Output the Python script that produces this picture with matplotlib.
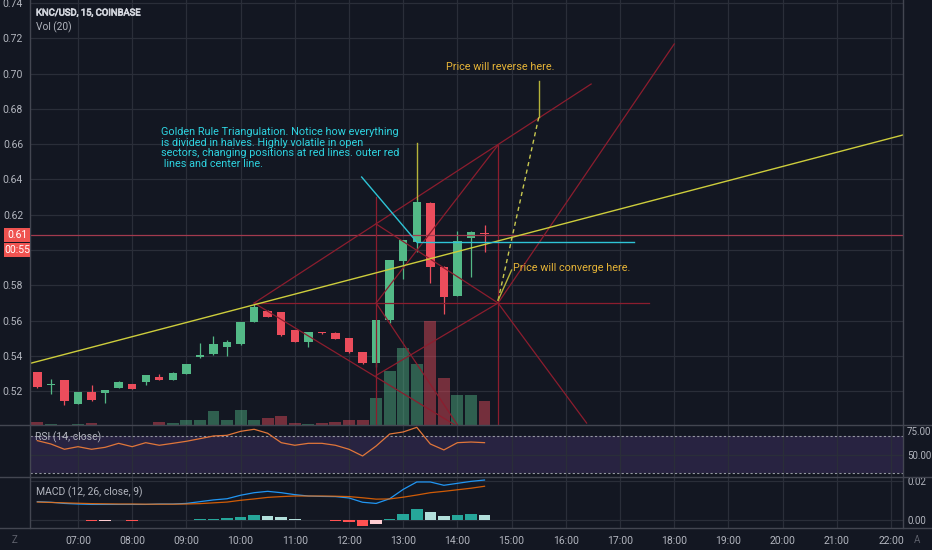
import matplotlib
matplotlib.use('Agg')
import matplotlib.pyplot as plt
from matplotlib import font_manager
from matplotlib.lines import Line2D
from matplotlib.patches import Rectangle
import matplotlib.patheffects as pe

fonts = font_manager.fontManager.ttflist
names = {f.name for f in fonts}
FONT = 'Liberation Sans Narrow' if 'Liberation Sans Narrow' in names else 'Roboto'
plt.rcParams['font.family'] = [FONT, 'DejaVu Sans']

# ---------------- data ----------------
title = "KNC/USD, 15, COINBASE"
vol_title = "Vol (20)"
rsi_title = "RSI (14, close)"
macd_title = "MACD (12, 26, close, 9)"
first_bar = "06:15"
bar_minutes = 15

opens = [0.5307, 0.5234, 0.5262, 0.5130, 0.5194, 0.5189, 0.5220, 0.5240, 0.5251, 0.5279,
         0.5264, 0.5298, 0.5393, 0.5409, 0.5453, 0.5466, 0.5593, 0.5655, 0.5648, 0.5547,
         0.5477, 0.5535, 0.5532, 0.5502, 0.5423, 0.5359, 0.5605, 0.5938, 0.6044, 0.6269,
         0.5906, 0.5740, 0.6067, 0.6097]
highs = [0.5310, 0.5271, 0.5264, 0.5196, 0.5234, 0.5209, 0.5256, 0.5242, 0.5294, 0.5298,
         0.5309, 0.5355, 0.5472, 0.5513, 0.5489, 0.5595, 0.5700, 0.5658, 0.5650, 0.5549,
         0.5536, 0.5537, 0.5534, 0.5504, 0.5425, 0.5604, 0.5944, 0.6059, 0.6290, 0.6271,
         0.5908, 0.6110, 0.6106, 0.6142]
lows = [0.5220, 0.5185, 0.5122, 0.5128, 0.5147, 0.5134, 0.5218, 0.5213, 0.5236, 0.5262,
        0.5262, 0.5296, 0.5391, 0.5407, 0.5402, 0.5464, 0.5591, 0.5621, 0.5515, 0.5477,
        0.5451, 0.5526, 0.5496, 0.5419, 0.5357, 0.5340, 0.5589, 0.5836, 0.5991, 0.5813,
        0.5638, 0.5738, 0.5849, 0.5991]
closes = [0.5224, 0.5240, 0.5147, 0.5194, 0.5149, 0.5207, 0.5254, 0.5215, 0.5292, 0.5264,
          0.5302, 0.5353, 0.5404, 0.5466, 0.5479, 0.5593, 0.5676, 0.5623, 0.5521, 0.5479,
          0.5534, 0.5528, 0.5498, 0.5421, 0.5359, 0.5602, 0.5942, 0.6057, 0.6272, 0.5902,
          0.5736, 0.6051, 0.6104, 0.6090]
volumes = [3.0, 1.0, 0.5, 1.5, 2.0, 0.5, 0.5, 0.5, 0.5, 3.0,
           2.5, 5.0, 5.0, 14.0, 5.0, 15.0, 5.5, 7.3, 9.0, 2.3,
           0.8, 1.7, 3.3, 5.0, 5.0, 27.0, 54.0, 77.0, 61.5, 104.5,
           47.3, 30.5, 30.0, 24.5]  # thousands
rsi = [65.0, 61.4, 55.7, 58.5, 55.7, 57.8, 62.1, 58.5, 62.8, 60.0,
       62.1, 64.3, 67.1, 70.0, 70.7, 75.0, 77.2, 72.9, 62.8, 60.0,
       62.1, 62.1, 60.0, 55.7, 48.5, 59.2, 72.1, 74.3, 79.3, 61.4,
       55.0, 62.8, 63.5, 62.8]
macd = [0.0094, 0.0091, 0.0085, 0.0082, 0.0080, 0.0080, 0.0080, 0.0080, 0.0080, 0.0082,
        0.0082, 0.0085, 0.0094, 0.0103, 0.0109, 0.0127, 0.0140, 0.0147, 0.0140, 0.0130,
        0.0123, 0.0121, 0.0120, 0.0113, 0.0091, 0.0085, 0.0109, 0.0157, 0.0195, 0.0195,
        0.0178, 0.0188, 0.0198, 0.0205]
signal = [0.0092, 0.0090, 0.0088, 0.0086, 0.0084, 0.0083, 0.0082, 0.0082, 0.0081, 0.0081,
          0.0081, 0.0082, 0.0084, 0.0088, 0.0092, 0.0101, 0.0108, 0.0116, 0.0120, 0.0123,
          0.0123, 0.0123, 0.0122, 0.0120, 0.0114, 0.0107, 0.0108, 0.0117, 0.0128, 0.0140,
          0.0147, 0.0155, 0.0163, 0.0173]
hist = [0.0002, 0.0001, -0.0001, -0.0002, -0.0004, -0.0003, -0.0002, -0.0003, -0.0001, 0.0001,
        0.0001, 0.0002, 0.0004, 0.0007, 0.0011, 0.0015, 0.0025, 0.0023, 0.0016, 0.0007,
        0.0002, 0.0001, -0.0003, -0.0010, -0.0030, -0.0021, 0.0003, 0.0031, 0.0055, 0.0043,
        0.0020, 0.0027, 0.0031, 0.0024]
hour_labels = ["07:00", "08:00", "09:00", "10:00", "11:00", "12:00", "13:00", "14:00",
               "15:00", "16:00", "17:00", "18:00", "19:00", "20:00", "21:00", "22:00"]
price_ticks = [0.52, 0.54, 0.56, 0.58, 0.60, 0.62, 0.64, 0.66, 0.68, 0.70, 0.72, 0.74]
rsi_ticks = [50, 75]
rsi_band = [30, 70]
macd_ticks = [0.00, 0.02]
last_price = 0.6087
last_price_label = "0.61"
countdown = "00:55"

# drawings: (time, price) anchors
red_segments = [
    (("10:15", 0.5700), ("17:32", 0.5700)),   # horizontal
    (("10:15", 0.5700), ("16:28", 0.6941)),   # upper outer
    (("10:15", 0.5700), ("14:05", 0.4985)),   # lower outer
    (("12:30", 0.6301), ("12:30", 0.4900)),   # vertical left
    (("14:45", 0.6595), ("14:45", 0.4900)),   # vertical right
    (("12:30", 0.5700), ("14:45", 0.6595)),
    (("12:30", 0.5700), ("14:05", 0.4972)),
    (("12:30", 0.6148), ("14:45", 0.5700)),
    (("12:30", 0.5290), ("14:45", 0.5700)),
    (("14:45", 0.5700), ("18:00", 0.7168)),
    (("14:45", 0.5700), ("16:23", 0.5020)),
]
trend_anchor = [("06:07", 0.5358), ("22:13", 0.6652)]
cyan_segments = [
    (("13:15", 0.6044), ("17:15", 0.6044)),
    (("12:14", 0.6414), ("13:15", 0.6046)),
]
yellow_dashed = (("14:45", 0.5715), ("15:30", 0.6752))
yellow_solid = [
    (("15:30", 0.6752), ("15:30", 0.6960)),
    (("14:45", 0.5715), ("15:00", 0.5887)),
    (("13:15", 0.6290), ("13:15", 0.6605)),
]
note_text = ("Golden Rule Triangulation. Notice how everything\n"
             "is divided in halves. Highly volatile in open\n"
             "sectors, changing positions at red lines. outer red\n"
             " lines and center line.")
note_anchor = ("08:32", 0.6700)
reverse_text = "Price will reverse here."
reverse_anchor = ("14:47", 0.7037)
converge_text = "Price will converge here."
converge_anchor = ("15:02", 0.5899)


def tidx(t):
    h, m = t.split(":")
    h0, m0 = first_bar.split(":")
    return ((int(h) * 60 + int(m)) - (int(h0) * 60 + int(m0))) / bar_minutes


# ---------------- style ----------------
BG = '#131722'
GRID = '#2a2e39'
TXT = '#b2b5be'
UP = '#53b987'
DN = '#eb4d5c'
SEP = '#434651'
RED_DRAW = '#8c1d2e'
NOTE_FS = 7.8

W, H = 932, 550
fig = plt.figure(figsize=(W / 100, H / 100), dpi=100, facecolor=BG)

L, R = 30, 903
def rect(top, bot):
    return [L / W, (H - bot) / H, (R - L) / W, (bot - top) / H]

XLIM = (-0.54, 63.88)
PYLIM = (0.5009, 0.7417)
n = len(closes)
xs = list(range(n))
hour_pos = [tidx(h) for h in hour_labels]

# volume axes (background)
axv = fig.add_axes(rect(0, 425), facecolor=BG)
axv.set_xlim(*XLIM)
axv.set_ylim(0, 425)
for s in axv.spines.values():
    s.set_visible(False)
axv.set_xticks([]); axv.set_yticks([])
vcols = [UP if c >= o else DN for o, c in zip(opens, closes)]
axv.bar(xs, volumes, width=0.88, color=vcols, alpha=0.45, zorder=2, linewidth=0)

# main price axes
ax = fig.add_axes(rect(0, 425))
ax.patch.set_visible(False)
ax.set_xlim(*XLIM)
ax.set_ylim(*PYLIM)
for s in ax.spines.values():
    s.set_visible(False)
ax.set_xticks([])

# price-label boxes on the left scale (hide tick labels they cover)
y_disp = ax.transData.transform((0, last_price))[1]   # pixels from bottom
box_centres = [y_disp - k * 15 for k in range(2)]
ticklabels = []
for p in price_ticks:
    yp = ax.transData.transform((0, p))[1]
    covered = any(abs(yp - yc) < 11 for yc in box_centres)
    ticklabels.append("" if covered else f"{p:.2f}")
ax.set_yticks(price_ticks)
ax.set_yticklabels(ticklabels)
ax.tick_params(axis='y', length=0, pad=5, labelsize=7.5, labelcolor=TXT)
for yc, txt in zip(box_centres, [last_price_label, countdown]):
    fig.add_artist(Rectangle((4 / W, (yc - 7) / H), 26 / W, 14 / H,
                             transform=fig.transFigure, fc='#ef5350', ec='none', zorder=10))
    fig.text(17 / W, yc / H, txt, ha='center', va='center', fontsize=7.5,
             color='white', zorder=11)

for p in price_ticks:
    axv.axhline((p - PYLIM[0]) / (PYLIM[1] - PYLIM[0]) * 425, color=GRID, lw=0.9, zorder=0)
for hp in hour_pos:
    axv.axvline(hp, color=GRID, lw=0.9, zorder=0)

# candles
for i in xs:
    o, hi, lo, c = opens[i], highs[i], lows[i], closes[i]
    col = UP if c >= o else DN
    ax.plot([i, i], [lo, hi], color=col, lw=0.9, zorder=3, solid_capstyle='butt')
    bot = min(o, c)
    hgt = max(abs(c - o), 0.0004)
    ax.bar(i, hgt, bottom=bot, width=0.62, color=col, zorder=4, linewidth=0)

ax.axhline(last_price, color='#a23a4e', lw=0.9, zorder=5)

# drawings
for (t1, p1), (t2, p2) in red_segments:
    ax.plot([tidx(t1), tidx(t2)], [p1, p2], color=RED_DRAW, lw=0.9, zorder=6)
ax.axline((tidx(trend_anchor[0][0]), trend_anchor[0][1]),
          (tidx(trend_anchor[1][0]), trend_anchor[1][1]), color='#cdcd3c', lw=1.0, zorder=7)
for (t1, p1), (t2, p2) in cyan_segments:
    ax.plot([tidx(t1), tidx(t2)], [p1, p2], color='#2ec4d6', lw=1.0, zorder=7)
(t1, p1), (t2, p2) = yellow_dashed
ax.plot([tidx(t1), tidx(t2)], [p1, p2], color='#c8c850', lw=1.0, ls=(0, (3, 2.5)), zorder=7)
for (t1, p1), (t2, p2) in yellow_solid:
    ax.plot([tidx(t1), tidx(t2)], [p1, p2], color='#b5b33a', lw=1.0, zorder=7)

ax.text(tidx(note_anchor[0]), note_anchor[1], note_text, color='#2ed3e0', fontsize=NOTE_FS,
        ha='left', va='top', linespacing=1.12, zorder=8)
ax.text(tidx(reverse_anchor[0]), reverse_anchor[1], reverse_text, color='#e6b437',
        fontsize=NOTE_FS, ha='center', va='center', zorder=8)
ax.text(tidx(converge_anchor[0]), converge_anchor[1], converge_text, color='#e6b437',
        fontsize=NOTE_FS, ha='left', va='center', zorder=8)

fig.text(36 / W, 1 - 13 / H, title, color='#d1d4dc', fontsize=6.8, va='center',
         path_effects=[pe.withStroke(linewidth=0.5, foreground='#d1d4dc')])
fig.text(36 / W, 1 - 27 / H, vol_title, color=TXT, fontsize=7.3, va='center')

# RSI panel
axr = fig.add_axes(rect(425, 477), facecolor=BG)
axr.set_xlim(*XLIM)
axr.set_ylim(25.9, 81.8)
for s in axr.spines.values():
    s.set_visible(False)
axr.axhspan(rsi_band[0], rsi_band[1], color='#7e57c2', alpha=0.2, lw=0, zorder=0)
for hp in hour_pos:
    axr.axvline(hp, color=GRID, lw=0.9, zorder=1)
axr.axhline(50, color=GRID, lw=0.9, zorder=1)
for b in rsi_band:
    axr.axhline(b, color='#9598a1', lw=0.8, ls=(0, (2, 2)), zorder=2)
axr.plot(xs, rsi, color='#e0763a', lw=0.9, zorder=3)
axr.set_xticks([])
axr.yaxis.tick_right()
axr.set_yticks(rsi_ticks)
axr.set_yticklabels([f"{v:.2f}" for v in rsi_ticks])
axr.tick_params(axis='y', length=0, pad=3, labelsize=7, labelcolor=TXT)
axr.text(5 / (R - L), 1 - 12 / 52, rsi_title, transform=axr.transAxes, color=TXT,
         fontsize=7.5, va='center', ha='left')

# MACD panel
axm = fig.add_axes(rect(477, 528), facecolor=BG)
axm.set_xlim(*XLIM)
axm.set_ylim(-0.0041, 0.02205)
for s in axm.spines.values():
    s.set_visible(False)
for hp in hour_pos:
    axm.axvline(hp, color=GRID, lw=0.9, zorder=0)
for t in macd_ticks:
    axm.axhline(t, color=GRID, lw=0.9, zorder=0)
hcols = []
for i, h in enumerate(hist):
    prev = hist[i - 1] if i > 0 else h
    if h >= 0:
        hcols.append('#26a69a' if h >= prev else '#b2dfdb')
    else:
        hcols.append('#ff5252' if h <= prev else '#ffcdd2')
axm.bar(xs, hist, width=0.85, color=hcols, linewidth=0, zorder=2)
axm.plot(xs, macd, color='#2196f3', lw=0.9, zorder=3)
axm.plot(xs, signal, color='#ff6d00', lw=0.9, zorder=3, alpha=0.8)
axm.yaxis.tick_right()
axm.set_yticks(macd_ticks)
axm.set_yticklabels([f"{v:.2f}" for v in macd_ticks])
axm.tick_params(axis='y', length=0, pad=3, labelsize=7, labelcolor=TXT)
axm.set_xticks(hour_pos)
axm.set_xticklabels(hour_labels)
axm.tick_params(axis='x', length=0, pad=6, labelsize=7.5, labelcolor=TXT)
axm.text(6 / (R - L), 1 - 15 / 51, macd_title, transform=axm.transAxes, color=TXT,
         fontsize=7.5, va='center', ha='left')

# separators / borders
for yy in (425, 477, 528):
    fig.add_artist(Line2D([0, 1], [1 - yy / H, 1 - yy / H], color=SEP, lw=1.0))
for xx in (L, R):
    fig.add_artist(Line2D([xx / W, xx / W], [1 - 528 / H, 1], color=SEP, lw=1.0))

fig.text(14 / W, 1 - 540 / H, "Z", color='#5d606b', fontsize=7, ha='center', va='center')
fig.text(917 / W, 1 - 540 / H, "A", color='#5d606b', fontsize=7, ha='center', va='center')

fig.savefig('out.png', dpi=100, facecolor=BG)
